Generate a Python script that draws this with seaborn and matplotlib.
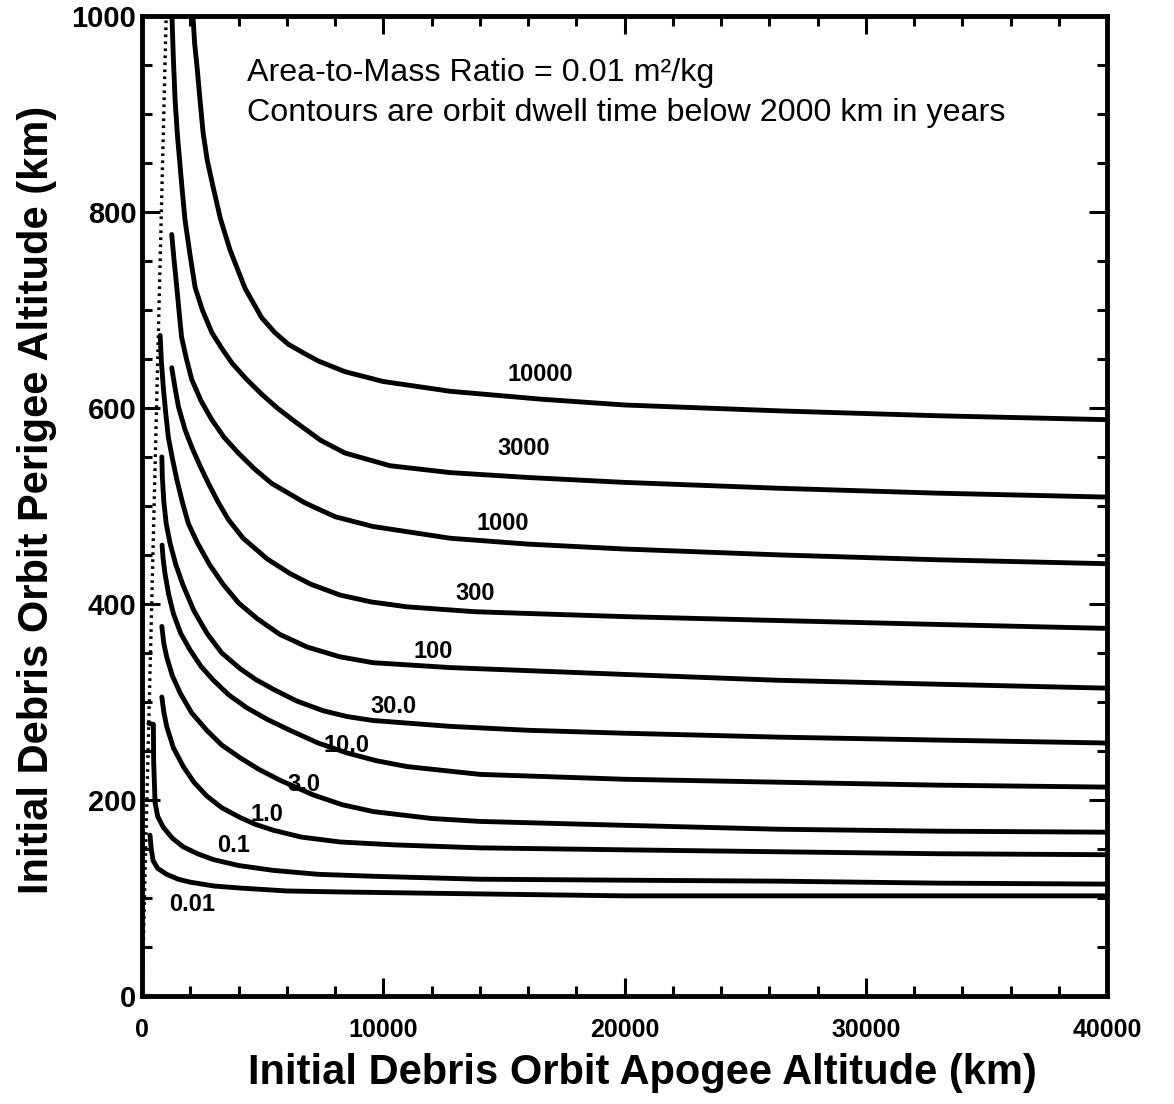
import numpy as np
import pandas as pd
import matplotlib.pyplot as plt
from matplotlib.ticker import MultipleLocator
import seaborn as sns

# contour levels (years) and their printed labels
levels = ["10000", "3000", "1000", "300", "100", "30.0", "10.0", "3.0", "1.0", "0.1", "0.01"]

# each contour: apogee (km) vs perigee (km)
apo_10000 = [2110, 2180, 2280, 2400, 2530, 2700, 2940, 3250, 3650, 4270, 4960, 5500, 6060, 6700, 7300,
             8410, 9990, 12770, 16500, 20000, 26400, 33000, 40000]
per_10000 = [1000, 972, 948, 915, 881, 853, 826, 793, 761, 722, 692, 677, 665, 656, 648,
             637, 627, 617, 609, 603, 597, 592, 588]

apo_3000 = [1240, 1300, 1370, 1470, 1580, 1680, 1780, 1990, 2200, 2500, 2890, 3300, 3720, 4300, 4960,
            5600, 6340, 7400, 8410, 10280, 12770, 16000, 20000, 26400, 33000, 40000]
per_3000 = [1000, 955, 914, 877, 846, 818, 792, 756, 723, 700, 677, 661, 646, 630, 614,
            600, 586, 567, 554, 541, 534, 529, 524, 518, 513, 509]

apo_1000 = [1230, 1330, 1440, 1540, 1640, 1850, 2060, 2450, 2890, 3400, 3990, 4650, 5370, 6760, 8000,
            9570, 12770, 16000, 20000, 26400, 33000, 40000]
per_1000 = [777, 750, 723, 697, 672, 649, 629, 607, 588, 570, 554, 538, 523, 503, 489,
            479, 467, 461, 456, 450, 445, 441]

apo_300 = [1230, 1370, 1510, 1780, 2060, 2400, 2750, 3150, 3580, 4190, 5180, 6130, 7000, 8210, 9500,
           10980, 13800, 20000, 26400, 33000, 40000]
per_300 = [641, 620, 601, 578, 560, 541, 523, 504, 486, 467, 446, 431, 420, 409, 402,
           397, 392, 387, 383, 379, 375]

apo_100 = [750, 800, 880, 980, 1090, 1260, 1440, 1680, 1920, 2300, 2800, 3360, 4000, 4770, 5700,
           6840, 8200, 9570, 12770, 20000, 26400, 33000, 40000]
per_100 = [674, 648, 621, 595, 570, 548, 527, 503, 482, 462, 440, 420, 401, 385, 369,
           356, 346, 340, 335, 328, 322, 318, 314]

apo_30 = [820, 840, 900, 1000, 1160, 1400, 1700, 2150, 2690, 3300, 4060, 4700, 5430, 6400, 7500,
          8500, 9570, 12770, 16000, 20000, 26400, 33000, 40000]
per_30 = [550, 530, 505, 482, 462, 440, 419, 393, 370, 350, 334, 323, 313, 301, 291,
          285, 281, 275, 271, 268, 264, 261, 258]

apo_10 = [830, 870, 950, 1100, 1300, 1600, 1990, 2450, 2960, 3600, 4340, 5200, 6130, 7300, 8480,
          9700, 10970, 14000, 20000, 26400, 33000, 40000]
per_10 = [460, 447, 431, 410, 390, 370, 353, 336, 322, 307, 294, 282, 271, 258, 248,
          240, 234, 226, 221, 218, 215, 213]

apo_3 = [820, 900, 1020, 1250, 1580, 2050, 2680, 3300, 4060, 4850, 5720, 7100, 8300, 9590, 12000,
         14000, 20000, 26400, 33000, 40000]
per_3 = [377, 360, 346, 327, 309, 289, 271, 256, 243, 231, 220, 205, 195, 188, 181,
         178, 174, 170, 168, 167]

apo_1 = [820, 900, 1020, 1300, 1710, 2150, 2680, 3300, 4060, 4700, 5440, 6600, 8210, 10500, 14000,
         20000, 26400, 33000, 40000]
per_1 = [305, 290, 275, 253, 234, 218, 204, 192, 182, 175, 169, 162, 157, 154, 151,
         149, 147, 145, 144]

apo_01 = [280, 470, 480, 540, 650, 880, 1250, 1710, 2300, 2960, 4000, 5440, 7300, 9590, 14000,
          20000, 26400, 33000, 40000]
per_01 = [278, 277, 240, 197, 183, 172, 161, 152, 145, 139, 133, 128, 124, 122, 119,
          118, 117, 115, 114]

apo_001 = [330, 380, 456, 650, 1020, 1500, 1990, 3000, 4060, 6000, 8210, 14000, 20000, 26400, 33000, 40000]
per_001 = [164, 150, 138, 130, 124, 119, 116, 112, 110, 107, 106, 104, 102, 102, 102, 102]

# where the level labels sit
label_apo = [16500, 15800, 14950, 13800, 12070, 10420, 8480, 6690, 5170, 3790, 2060]
label_per = [634, 559, 482, 411, 351, 295, 255, 216, 185, 153, 93]

# apogee == perigee line
diag = [0, 1000]

curves = [
    (apo_10000, per_10000), (apo_3000, per_3000), (apo_1000, per_1000),
    (apo_300, per_300), (apo_100, per_100), (apo_30, per_30), (apo_10, per_10),
    (apo_3, per_3), (apo_1, per_1), (apo_01, per_01), (apo_001, per_001),
]

frames = []
for lvl, (a, p) in zip(levels, curves):
    frames.append(pd.DataFrame({"apogee": a, "perigee": p, "level": lvl}))
data = pd.concat(frames, ignore_index=True)

sns.set_style("ticks")
plt.rcParams["font.family"] = ["Liberation Sans", "DejaVu Sans"]
plt.rcParams.update({"text.color": "black", "axes.labelcolor": "black", "axes.edgecolor": "black",
                     "xtick.color": "black", "ytick.color": "black"})

fig = plt.figure(figsize=(11.74, 11.04), dpi=100)
ax = fig.add_subplot(111)
plt.subplots_adjust(left=0.121, right=0.943, bottom=0.098, top=0.9855)

sns.lineplot(data=data, x="apogee", y="perigee", hue="level", units="level",
             palette={l: "black" for l in levels}, estimator=None, sort=False,
             linewidth=3.5, legend=False, ax=ax)
sns.lineplot(x=diag, y=diag, color="black", linewidth=2.4, linestyle=(0, (0.8, 1.3)), ax=ax)

for lvl, xa, yp in zip(levels, label_apo, label_per):
    ax.text(xa, yp, lvl, ha="center", va="center", fontsize=17, fontweight="bold")

ax.text(4350, 942, "Area-to-Mass Ratio = 0.01 m\u00b2/kg", ha="left", va="center", fontsize=23.2)
ax.text(4350, 901, "Contours are orbit dwell time below 2000 km in years", ha="left", va="center", fontsize=23.2)

ax.set_xlim(0, 40000)
ax.set_ylim(0, 1000)
ax.set_xticks([0, 10000, 20000, 30000, 40000])
ax.set_yticks([0, 200, 400, 600, 800, 1000])
ax.xaxis.set_minor_locator(MultipleLocator(2000))
ax.yaxis.set_minor_locator(MultipleLocator(50))
ax.tick_params(which="both", direction="in", top=True, right=True, width=2.2)
ax.tick_params(which="major", length=13)
ax.tick_params(which="minor", length=7)
ax.tick_params(axis="x", which="major", pad=16)
ax.tick_params(axis="y", which="major", pad=4)
for lab in ax.get_xticklabels():
    lab.set_fontsize(18)
    lab.set_fontweight("bold")
for lab in ax.get_yticklabels():
    lab.set_fontsize(21)
    lab.set_fontweight("bold")
for s in ax.spines.values():
    s.set_linewidth(3.5)

ax.set_xlabel("Initial Debris Orbit Apogee Altitude (km)", fontsize=30, fontweight="bold")
ax.set_ylabel("Initial Debris Orbit Perigee Altitude (km)", fontsize=30, fontweight="bold")
ax.xaxis.set_label_coords(0.518, -0.058)
ax.yaxis.set_label_coords(-0.088, 0.506)

plt.savefig("out.png", dpi=100)
